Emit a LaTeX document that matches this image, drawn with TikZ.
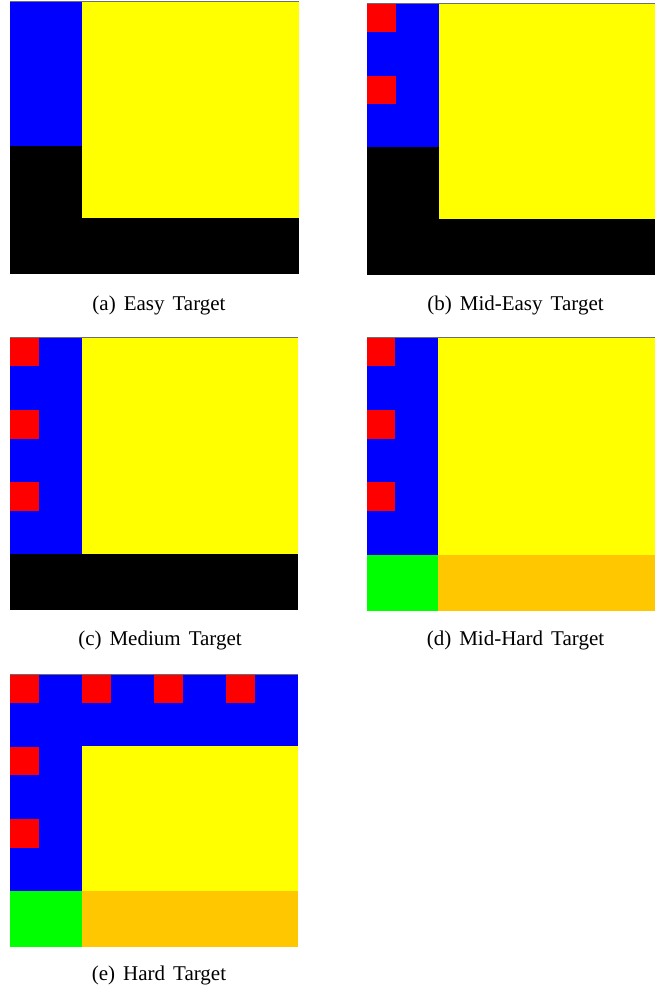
\documentclass[tikz,border=0pt]{standalone}
\usepackage{fontspec}
\setmainfont{Liberation Serif}
\definecolor{cblue}{RGB}{0,0,255}
\definecolor{cyellow}{RGB}{255,255,0}
\definecolor{cred}{RGB}{255,0,0}
\definecolor{cgreen}{RGB}{0,255,0}
\definecolor{corange}{RGB}{255,199,0}
\definecolor{cedge}{RGB}{110,110,110}
\newcommand{\capgap}{\hspace{8pt}}
\begin{document}
\begin{tikzpicture}[x=1pt,y=-1pt,
  blu/.style={fill=cblue},
  yel/.style={fill=cyellow},
  redsq/.style={fill=cred},
  grn/.style={fill=cgreen},
  org/.style={fill=corange},
  blk/.style={fill=black},
  topedge/.style={draw=cedge,line width=0.8pt},
  captxt/.style={anchor=base,inner sep=0pt,font=\fontsize{21}{24}\selectfont}]
\useasboundingbox[fill=white] (0,0) rectangle (668,987);
% (a) Easy
\path[blk] (10,1) rectangle (299,274);
\path[blu] (10,1) rectangle (82,146);
\path[yel] (82,1) rectangle (299,218);
\draw[topedge] (10,1.4) -- (299,1.4);
\node[captxt] (capa) at (159,310) {(a)\capgap Easy\capgap Target};
% (b) Mid-Easy
\path[blk] (367,3) rectangle (655,275);
\path[blu] (367,3) rectangle (439,147);
\path[yel] (439,3) rectangle (655,219);
\path[redsq] (367,3) rectangle (396,32);
\path[redsq] (367,76) rectangle (396,104);
\draw[topedge] (367,3.4) -- (655,3.4);
\node[captxt] (capb) at (515.5,310) {(b)\capgap Mid-Easy\capgap Target};
% (c) Medium
\path[blk] (10,337) rectangle (298,610);
\path[blu] (10,337) rectangle (82,554);
\path[yel] (82,337) rectangle (298,554);
\path[redsq] (10,337) rectangle (39,366);
\path[redsq] (10,410) rectangle (39,439);
\path[redsq] (10,482) rectangle (39,511);
\draw[topedge] (10,337.4) -- (298,337.4);
\node[captxt] (capc) at (160,645) {(c)\capgap Medium\capgap Target};
% (d) Mid-Hard
\path[blu] (367,337) rectangle (438,555);
\path[yel] (438,337) rectangle (655,555);
\path[grn] (367,555) rectangle (438,611);
\path[org] (438,555) rectangle (655,611);
\path[redsq] (367,337) rectangle (395,366);
\path[redsq] (367,410) rectangle (395,439);
\path[redsq] (367,482) rectangle (395,511);
\draw[topedge] (367,337.4) -- (655,337.4);
\node[captxt] (capd) at (515.5,645) {(d)\capgap Mid-Hard\capgap Target};
% (e) Hard
\path[blu] (10,674) rectangle (298,746);
\path[blu] (10,746) rectangle (82,891);
\path[yel] (82,746) rectangle (298,891);
\path[grn] (10,891) rectangle (82,947);
\path[org] (82,891) rectangle (298,947);
\path[redsq] (10,674) rectangle (39,703);
\path[redsq] (82,674) rectangle (111,703);
\path[redsq] (154,674) rectangle (183,703);
\path[redsq] (226,674) rectangle (255,703);
\path[redsq] (10,747) rectangle (39,775);
\path[redsq] (10,819) rectangle (39,848);
\draw[topedge] (10,674.4) -- (298,674.4);
\node[captxt] (cape) at (159,980) {(e)\capgap Hard\capgap Target};
\end{tikzpicture}
\end{document}
